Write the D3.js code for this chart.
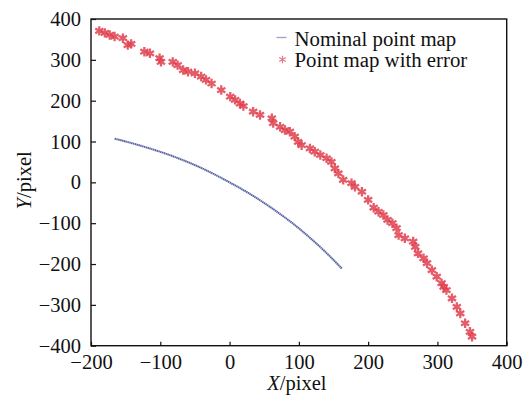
<!DOCTYPE html>
<html>
<head>
<meta charset="utf-8">
<script src="https://cdn.jsdelivr.net/npm/d3@7"></script>
<style>
  html, body { margin: 0; padding: 0; background: #fff; }
  svg text { font-family: "Liberation Serif", "Times New Roman", Times, "DejaVu Serif", serif; fill: #111; }
</style>
</head>
<body>
<svg id="chart"></svg>
<script>
// nominal point map (blue)
const nominalX = [-166, -150, -135, -120, -105, -90, -75, -60, -45, -30, -15, 0, 15, 30, 45, 60, 75, 90, 105, 120, 135, 150, 162];
const nominalY = [107, 100, 93, 85.5, 77.5, 69, 59.5, 49.5, 38.5, 26.5, 13.5, 0, -14, -29, -45, -62, -80, -99, -119.5, -141.5, -165, -190, -211];

// point map with error (red asterisks)
const errorX = [-188, -180, -173, -166, -154, -147, -142, -123, -115, -101, -99, -82, -75, -67, -60, -50, -41, -34, -26, -12,
  1, 8, 15, 20, 34, 44, 61, 63, 73, 80, 87, 94, 99, 104, 116, 123, 131, 140, 147, 152,
  157, 164, 176, 181, 191, 200, 208, 215, 222, 228, 235, 241, 244, 253, 265, 268, 272, 280, 285, 292,
  299, 306, 309, 313, 321, 328, 333, 340, 347, 350];
const errorY = [371, 366, 361, 357, 353, 336, 339, 320, 316, 304, 295, 295, 287, 275, 271, 267, 259, 251, 242, 226,
  210, 202, 193, 187, 173, 165, 157, 145, 136, 128, 124, 112, 99, 91, 83, 75, 67, 59, 50, 34,
  22, 6, -2, -11, -23, -43, -62, -72, -80, -92, -100, -112, -129, -137, -145, -158, -174, -186, -198, -215,
  -231, -247, -256, -264, -284, -305, -321, -345, -366, -378];

const xTicks = [-200, -100, 0, 100, 200, 300, 400];
const yTicks = [-400, -300, -200, -100, 0, 100, 200, 300, 400];
const legendNames = ["Nominal point map", "Point map with error"];

const W = 523, H = 396;
const margin = { top: 19, right: 16.3, bottom: 50.3, left: 91 };
const blue = "#5a64a4", red = "#e0404f";
const serif = "Liberation Serif, Times New Roman, Times, DejaVu Serif, serif";

const svg = d3.select("#chart").attr("width", W).attr("height", H);

const defs = svg.append("defs");
defs.append("filter").attr("id", "soft")
  .attr("x", "-20%").attr("y", "-20%").attr("width", "140%").attr("height", "140%")
  .append("feGaussianBlur").attr("stdDeviation", 0.6);

const x = d3.scaleLinear().domain([-200, 400]).range([margin.left, W - margin.right]);
const y = d3.scaleLinear().domain([-400, 400]).range([H - margin.bottom, margin.top]);

// axes with inward ticks
svg.append("g")
  .attr("transform", `translate(0,${H - margin.bottom})`)
  .attr("font-family", serif)
  .call(d3.axisBottom(x).tickValues(xTicks).tickSizeInner(-4).tickSizeOuter(0).tickPadding(9))
  .call(g => g.select(".domain").remove())
  .call(g => g.selectAll("line").attr("stroke", "#111").attr("stroke-width", 1.2))
  .call(g => g.selectAll("text").attr("font-size", 20.5).attr("fill", "#111"));

svg.append("g")
  .attr("transform", `translate(${margin.left},0)`)
  .attr("font-family", serif)
  .call(d3.axisLeft(y).tickValues(yTicks).tickSizeInner(-5).tickSizeOuter(0).tickPadding(10))
  .call(g => g.select(".domain").remove())
  .call(g => g.selectAll("line").attr("stroke", "#111").attr("stroke-width", 1.2))
  .call(g => g.selectAll("text").attr("font-size", 20.5).attr("fill", "#111"));

// frame
svg.append("rect")
  .attr("x", margin.left).attr("y", margin.top)
  .attr("width", W - margin.right - margin.left)
  .attr("height", H - margin.bottom - margin.top)
  .attr("fill", "none").attr("stroke", "#111").attr("stroke-width", 1.4);

// nominal curve
const nominal = nominalX.map((v, i) => [v, nominalY[i]]);
svg.append("path")
  .datum(nominal)
  .attr("d", d3.line().x(d => x(d[0])).y(d => y(d[1])).curve(d3.curveCatmullRom))
  .attr("fill", "none").attr("stroke", blue).attr("stroke-width", 2)
  .attr("stroke-dasharray", "1.5 0.4").attr("filter", "url(#soft)");

// error points
const errPts = errorX.map((v, i) => [v, errorY[i]]);
const star = d3.symbol(d3.symbolAsterisk).size(62);
svg.append("g").attr("filter", "url(#soft)")
  .selectAll("path").data(errPts).enter().append("path")
  .attr("transform", d => `translate(${x(d[0])},${y(d[1])})`)
  .attr("d", star)
  .attr("fill", "none").attr("stroke", red).attr("stroke-width", 2.3).attr("opacity", 0.85);

// legend
const lg = svg.append("g");
lg.append("line").attr("x1", 276.5).attr("x2", 286.5).attr("y1", 37.5).attr("y2", 37.5)
  .attr("stroke", "#9aa2c8").attr("stroke-width", 1.3);
lg.append("path").attr("transform", "translate(282.5,59.5)")
  .attr("d", d3.symbol(d3.symbolAsterisk).size(40))
  .attr("fill", "none").attr("stroke", "#e6788a").attr("stroke-width", 1.2);
lg.selectAll("text").data(legendNames).enter().append("text")
  .attr("x", 294.5).attr("y", (d, i) => 45.5 + i * 21)
  .attr("font-size", 20.8).text(d => d);

// axis titles
const xt = svg.append("text").attr("x", (margin.left + W - margin.right) / 2 - 2).attr("y", 390)
  .attr("text-anchor", "middle").attr("font-size", 20.5);
xt.append("tspan").attr("font-style", "italic").text("X");
xt.append("tspan").text("/pixel");

const yt = svg.append("text")
  .attr("transform", `translate(31,${(margin.top + H - margin.bottom) / 2 - 2}) rotate(-90)`)
  .attr("text-anchor", "middle").attr("font-size", 20.5);
yt.append("tspan").attr("font-style", "italic").text("Y");
yt.append("tspan").text("/pixel");
</script>
</body>
</html>
